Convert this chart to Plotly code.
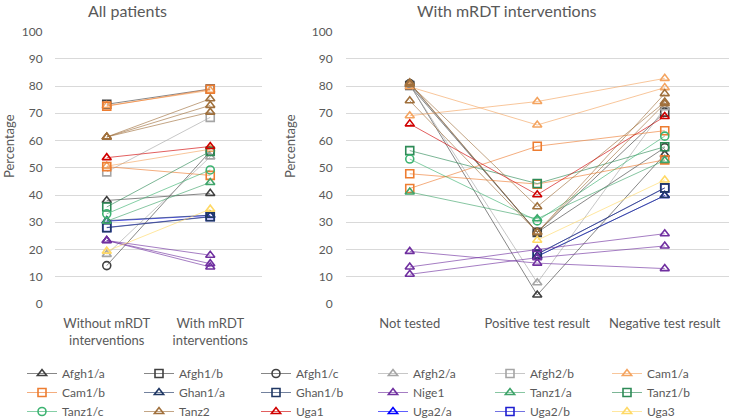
import plotly.graph_objects as go

# ---------------- data ----------------
left_categories = ["Without mRDT<br>interventions", "With mRDT<br>interventions"]
right_categories = ["Not tested", "Positive test result", "Negative test result"]

series_names = ["Afgh1/a", "Afgh1/b", "Afgh1/c", "Afgh2/a", "Afgh2/b", "Cam1/a",
                "Cam1/b", "Ghan1/a", "Ghan1/b", "Nige1", "Tanz1/a", "Tanz1/b",
                "Tanz1/c", "Tanz2", "Uga1", "Uga2/a", "Uga2/b", "Uga3"]

# each series: list of sub-lines (values per category)
left_values = {
    "Afgh1/a": [[38.0, 40.6]],
    "Afgh1/b": [[73.3, 78.9]],
    "Afgh1/c": [[14.1, 56.0]],
    "Afgh2/a": [[18.2, 54.0]],
    "Afgh2/b": [[48.5, 68.5]],
    "Cam1/a": [[72.8, 78.4], [50.6, 56.8]],
    "Cam1/b": [[72.6, 78.8], [50.4, 47.2]],
    "Ghan1/a": [[30.6, 32.6]],
    "Ghan1/b": [[28.0, 32.0]],
    "Nige1": [[23.3, 17.9], [23.3, 14.8], [23.3, 13.6]],
    "Tanz1/a": [[30.4, 44.6]],
    "Tanz1/b": [[35.6, 56.0]],
    "Tanz1/c": [[33.1, 49.2]],
    "Tanz2": [[61.3, 75.3], [61.3, 72.9], [61.3, 70.4]],
    "Uga1": [[53.7, 57.8]],
    "Uga2/a": [[30.4, 32.5]],
    "Uga2/b": [[28.1, 32.1]],
    "Uga3": [[19.4, 34.8]],
}

right_values = {
    "Afgh1/a": [[80.6, 3.3, 54.9]],
    "Afgh1/b": [[80.2, 26.3, 70.4]],
    "Afgh1/c": [[80.9, 26.3, 57.4]],
    "Afgh2/a": [[80.4, 7.8, 72.0]],
    "Afgh2/b": [],
    "Cam1/a": [[69.1, 74.3, 82.8], [79.7, 65.7, 79.4]],
    "Cam1/b": [[42.4, 57.9, 63.6], [47.8, 44.0, 52.9]],
    "Ghan1/a": [[None, 17.5, 39.8]],
    "Ghan1/b": [[None, 18.3, 42.6]],
    "Nige1": [[19.3, 15.0, 13.0], [13.6, 20.0, 25.8], [10.9, 17.0, 21.3]],
    "Tanz1/a": [[41.1, 31.3, 52.7]],
    "Tanz1/b": [[56.3, 44.2, 57.7]],
    "Tanz1/c": [[53.2, 30.5, 61.6]],
    "Tanz2": [[81.2, 26.3, 77.2], [80.7, 35.7, 74.1], [74.6, 26.3, 73.5]],
    "Uga1": [[66.1, 40.1, 68.8]],
    "Uga2/a": [[None, 17.5, 39.8]],
    "Uga2/b": [[None, 18.3, 42.6]],
    "Uga3": [[None, 23.4, 45.5]],
}

# series drawn first (sit underneath the others)
drawn_first = ["Uga2/a", "Uga2/b"]

y_ticks = [0, 10, 20, 30, 40, 50, 60, 70, 80, 90, 100]

# ---------------- styles ----------------
colors = {
    "Afgh1/a": "#404040", "Afgh1/b": "#404040", "Afgh1/c": "#404040",
    "Afgh2/a": "#A5A5A5", "Afgh2/b": "#A5A5A5",
    "Cam1/a": "#F4A460", "Cam1/b": "#ED7D31",
    "Ghan1/a": "#203864", "Ghan1/b": "#203864",
    "Nige1": "#7030A0",
    "Tanz1/a": "#3FA46A", "Tanz1/b": "#2E8B57", "Tanz1/c": "#3CB371",
    "Tanz2": "#A0703C", "Uga1": "#D00000",
    "Uga2/a": "#0000FF", "Uga2/b": "#1F1FD0", "Uga3": "#FFD966",
}
symbols = {
    "Afgh1/a": "triangle-up-open", "Afgh1/b": "square-open", "Afgh1/c": "circle-open",
    "Afgh2/a": "triangle-up-open", "Afgh2/b": "square-open",
    "Cam1/a": "triangle-up-open", "Cam1/b": "square-open",
    "Ghan1/a": "triangle-up-open", "Ghan1/b": "square-open",
    "Nige1": "triangle-up-open",
    "Tanz1/a": "triangle-up-open", "Tanz1/b": "square-open", "Tanz1/c": "circle-open",
    "Tanz2": "triangle-up-open", "Uga1": "triangle-up-open",
    "Uga2/a": "triangle-up-open", "Uga2/b": "square-open", "Uga3": "triangle-up-open",
}


def rgba(h, a):
    h = h.lstrip("#")
    return "rgba(%d,%d,%d,%.2f)" % (int(h[0:2], 16), int(h[2:4], 16), int(h[4:6], 16), a)


def build(cats, lines):
    xs, ys = [], []
    for i, ln in enumerate(lines):
        if i > 0:
            xs.append(None)
            ys.append(None)
        xs.extend(cats)
        ys.extend(ln)
    return xs, ys


fig = go.Figure()
draw_order = drawn_first + [n for n in series_names if n not in drawn_first]
for name in draw_order:
    c = colors[name]
    rank = series_names.index(name) + 1
    for panel, cats, vals, xa, ya, show in [
        ("L", left_categories, left_values[name], "x", "y", True),
        ("R", right_categories, right_values[name], "x2", "y2", False),
    ]:
        xs, ys = build(cats, vals)
        fig.add_trace(go.Scatter(
            x=xs, y=ys, xaxis=xa, yaxis=ya, name=name, legendrank=rank,
            showlegend=show, mode="lines+markers", connectgaps=False,
            line=dict(color=rgba(c, 0.7), width=0.9),
            marker=dict(symbol=symbols[name], size=8, color=c,
                        line=dict(width=1.6, color=c)),
            hoverinfo="skip",
        ))

W, H = 729, 418
y_dom = [(H - 304) / H, (H - 31.5) / H]
grid = "#D9D9D9"
tick_font = dict(family="Lato", size=12, color="#595959")
cat_font = dict(family="Lato", size=13, color="#595959")

fig.update_layout(
    width=W, height=H, margin=dict(l=0, r=0, t=0, b=0, autoexpand=False),
    paper_bgcolor="white", plot_bgcolor="white",
    font=dict(family="Lato", color="#595959"),
    xaxis=dict(domain=[55 / W, 262 / W], type="category", categoryarray=left_categories,
               range=[-0.5, 1.5], showgrid=False, showline=False, zeroline=False,
               ticks="outside", ticklen=7, tickcolor="rgba(0,0,0,0)", tickfont=cat_font),
    yaxis=dict(domain=y_dom, range=[0, 100], tickvals=y_ticks, showgrid=True,
               gridcolor=grid, gridwidth=1, zeroline=False, showline=False,
               ticks="outside", ticklen=9, tickcolor="rgba(0,0,0,0)", tickfont=tick_font),
    xaxis2=dict(domain=[346 / W, 728.5 / W], type="category", categoryarray=right_categories,
                range=[-0.5, 2.5], showgrid=False, showline=False, zeroline=False,
                ticks="outside", ticklen=7, tickcolor="rgba(0,0,0,0)", tickfont=cat_font,
                anchor="y2"),
    yaxis2=dict(domain=y_dom, range=[0, 100], tickvals=y_ticks, showgrid=True,
                gridcolor=grid, gridwidth=1, zeroline=False, showline=False,
                ticks="outside", ticklen=10, tickcolor="rgba(0,0,0,0)", tickfont=tick_font,
                anchor="x2"),
    legend=dict(orientation="h", x=22 / W, y=(H - 359) / H, xanchor="left", yanchor="top",
                entrywidth=72, entrywidthmode="pixels", itemwidth=30, tracegroupgap=0,
                traceorder="normal",
                font=dict(family="Lato", size=12, color="#595959"),
                bgcolor="rgba(0,0,0,0)"),
    showlegend=True,
)

fig.add_annotation(text="All patients", x=128 / W, y=(H - 10) / H, xref="paper", yref="paper",
                   xanchor="center", yanchor="middle", showarrow=False,
                   font=dict(family="Lato", size=16, color="#595959"))
fig.add_annotation(text="With mRDT interventions", x=507 / W, y=(H - 10) / H, xref="paper",
                   yref="paper", xanchor="center", yanchor="middle", showarrow=False,
                   font=dict(family="Lato", size=16, color="#595959"))
for xc in (9, 290):
    fig.add_annotation(text="Percentage", x=xc / W, y=(H - 146) / H, xref="paper", yref="paper",
                       xanchor="center", yanchor="middle", showarrow=False, textangle=-90,
                       font=dict(family="Lato", size=13, color="#595959"))

fig.write_html("out.html", config={"displayModeBar": False},
               post_script="document.body.style.margin='0';")
